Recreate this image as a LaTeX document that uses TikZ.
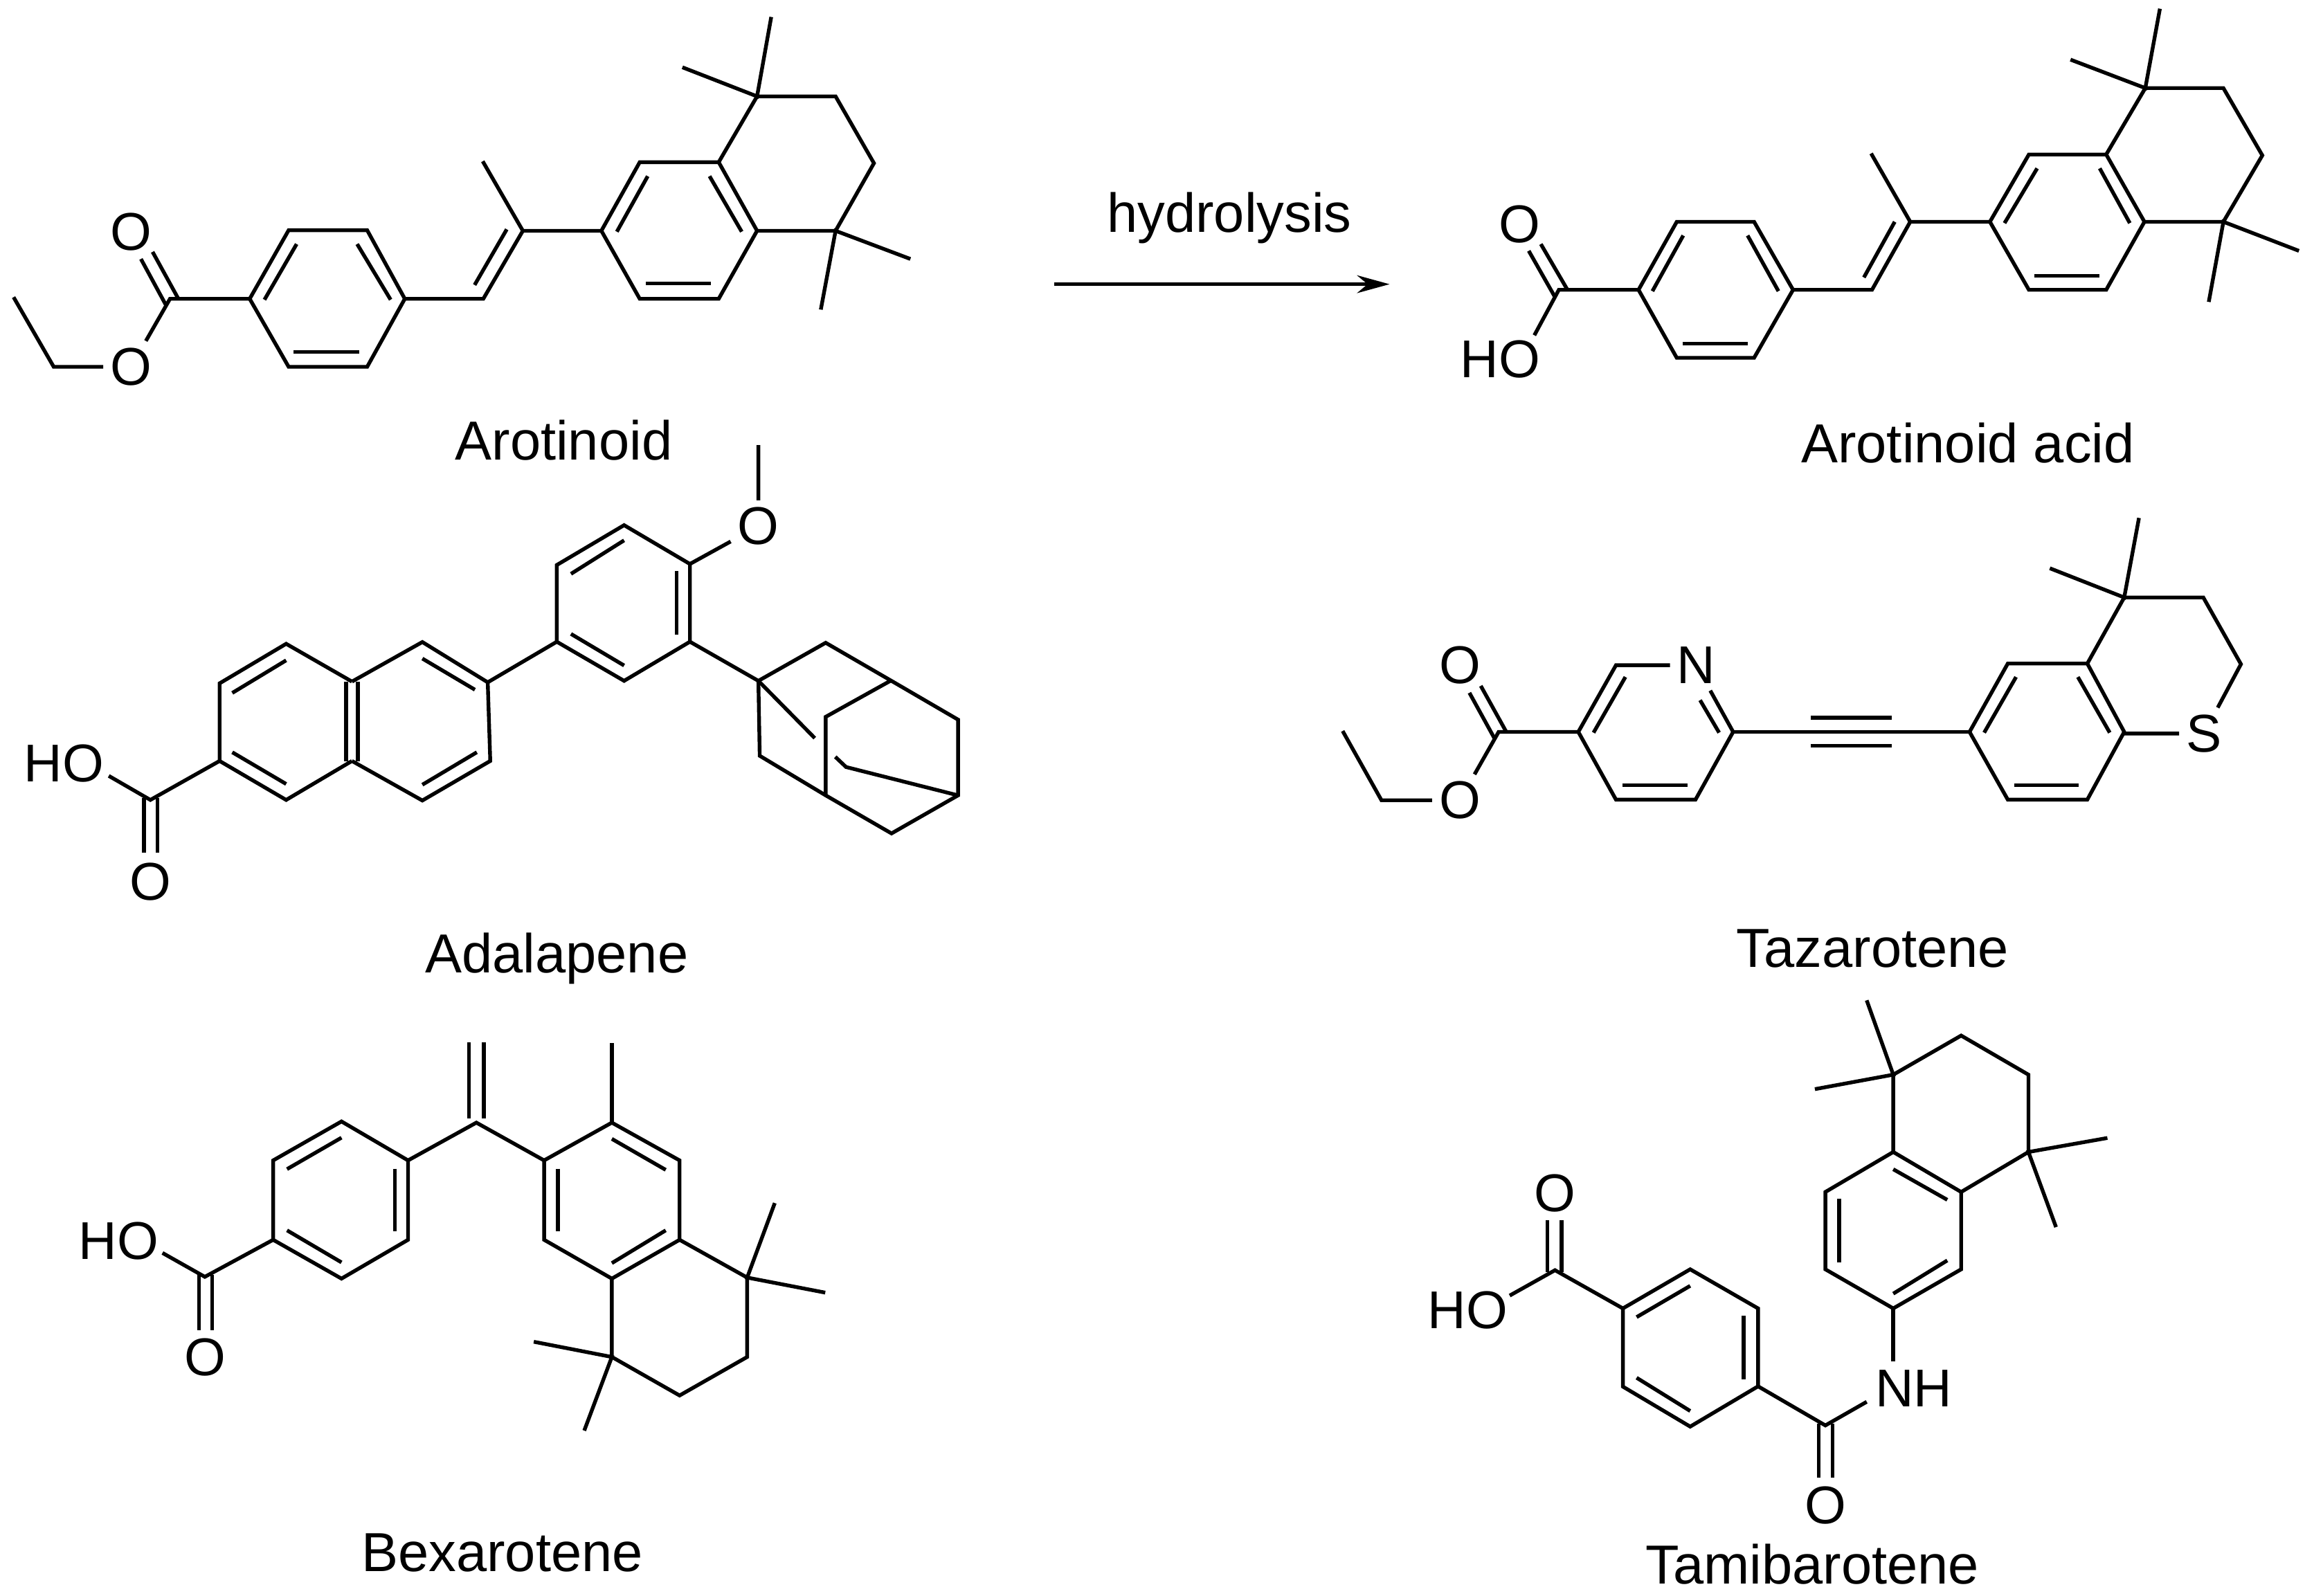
\documentclass[tikz,border=0pt]{standalone}
\usepackage{fontspec}
\setmainfont{Liberation Sans}
\usetikzlibrary{arrows.meta}
\begin{document}
\begin{tikzpicture}[x=.01cm, y=-.01cm, >={Stealth[length=2.2mm,width=1.2mm]}, line width=.72pt,
  atom/.style={font=\fontsize{10.25}{12}\selectfont, inner sep=1pt},
  molname/.style={font=\fontsize{10.6}{12}\selectfont, anchor=base, inner sep=0pt}]
\useasboundingbox (0,0) rectangle (1568,1081.6);

\node[atom] (aroOa) at (88.8,157) {O};
\node[atom] (aroOb) at (88.8,248.6) {O};
\draw (9.2,201.4)--(36.4,248.6)--(aroOb);
\draw (aroOb)--(115.2,202.5)--(169.2,202.5);
\draw (103.4,170.7)--(120.6,202);
\draw (95.5,175.5)--(112.2,206.3);
\draw (169.2,202.5)--(195.6,156)--(248.8,156)--(274.3,202.5)--(248.8,248.6)--(195.6,248.6)--cycle;
\draw (201,165.4)--(179.2,203.1);
\draw (242,165.4)--(264.7,203.1);
\draw (198.9,238.5)--(243.3,238.5);
\draw (274.3,202.5)--(327.5,202.5)--(354.3,156.4)--(407.5,156.4);
\draw (321.6,193.1)--(343.4,155.4);
\draw (327.1,109.3)--(354.3,156.4);
\draw (407.5,156.4)--(433.5,109.9)--(487,109.9)--(513,156.4)--(487,202.5)--(433.5,202.5)--cycle;
\draw (438.9,119.4)--(418,157);
\draw (480.8,119.4)--(502.6,157);
\draw (437.6,192.2)--(481.6,192.2);
\draw (487,109.9)--(513,65.3)--(566.2,65.3)--(592.2,110.6)--(566.2,156.4)--(513,156.4);
\draw (522.6,11.5)--(513,65.3)--(462.4,45.6);
\draw (616.9,175.5)--(566.2,156.4)--(556.2,209.8);
\node[molname] (aroname) at (382,311.6) {Arotinoid};

\coordinate (arrowstart) at (714.5,192.6);
\coordinate (arrowend) at (941.6,192.6);
\draw[->] (arrowstart)--(arrowend);
\node[molname] (hydrolysis) at (833,157.5) {hydrolysis};

\node[atom] (acidO) at (1029.8,152.2) {O};
\node[atom] (acidHO) at (1016.6,243.5) {HO};
\draw (1039.7,227.2)--(1056.3,196.4)--(1110.3,196.4);
\draw (1044.1,165.4)--(1061.8,195.8);
\draw (1035.9,170)--(1053.5,201);
\draw (1110.3,196.4)--(1136.2,150.3)--(1188.6,150.3)--(1215,196.4)--(1188.6,242.5)--(1136.2,242.5)--cycle;
\draw (1140.6,159.6)--(1119.7,197.3);
\draw (1184.2,159.6)--(1205.1,197.3);
\draw (1140,233)--(1184.2,233);
\draw (1215,196.4)--(1268.5,196.4)--(1294.4,150.3)--(1348.4,150.3);
\draw (1263,188)--(1283.9,150.3);
\draw (1267.9,104)--(1294.4,150.3);
\draw (1348.4,150.3)--(1374.8,104.7)--(1427.2,104.7)--(1453.1,150.3)--(1427.2,196.4)--(1374.8,196.4)--cycle;
\draw (1380.4,114.1)--(1358.3,151.2);
\draw (1422.8,114.1)--(1443.2,151.2);
\draw (1378.7,187)--(1422.8,187);
\draw (1427.2,104.7)--(1453.7,59.7)--(1506.6,59.7)--(1533,105.3)--(1506.6,150.3)--(1453.1,150.3);
\draw (1463.6,5.9)--(1453.7,59.7)--(1403,40.4);
\draw (1557.8,170)--(1506.6,150.3)--(1496.7,204.6);
\node[molname] (acidname) at (1333.5,313.5) {Arotinoid acid};

\node[atom] (adaO) at (513.9,356.6) {O};
\node[atom] (adaHO) at (43.4,517.4) {HO};
\node[atom] (adaOb) at (101.9,597.6) {O};
\draw (513.9,301.6)--(adaO)--(467.5,382.2);
\draw (422.9,355.9)--(377.3,382.9)--(377.3,434.9)--(422.9,461.4)--(467.5,434.9)--(467.5,382.2)--cycle;
\draw (422.9,366.2)--(386.9,388.9);
\draw (458.4,387)--(458.4,430);
\draw (386.9,429.6)--(422.9,451);
\draw (330.5,462.4)--(377.3,434.9);
\draw (238.5,461.9)--(286.2,435.1)--(330.5,462.4)--(332.2,515.7)--(286.2,542.5)--(238.5,515.7);
\draw (238.5,461.9)--(193.9,436.3)--(148.8,463.1)--(148.8,515.7)--(193.9,542.1)--(238.5,515.7);
\draw (234.6,462)--(234.6,516);
\draw (242.4,462)--(242.4,516);
\draw (193.9,447.5)--(157.4,469.6);
\draw (157.4,509.8)--(193.9,531.3);
\draw (286.2,446.3)--(321.8,467.4);
\draw (323.1,509.8)--(286.2,531.8);
\draw (148.8,515.7)--(101.9,542.1)--(73.7,525.8);
\draw (97.6,541)--(97.6,578);
\draw (106.7,541)--(106.7,578);
\draw (467.5,434.9)--(513.9,461.4)--(559.5,435.6)--(603.7,461.2)--(649.2,487.7)--(649.2,539)--(604.1,564.8)--(559.5,539)--(514.8,512.2)--(513.9,461.4);
\draw (603.7,461.2)--(559.5,485.8)--(559.5,539);
\draw (513.9,461.4)--(552.1,500.2);
\draw (566,512.9)--(573.3,519.8)--(649.2,539);
\node[molname] (adaname) at (377.3,659.3) {Adalapene};

\node[atom] (tazOa) at (989.2,450.8) {O};
\node[atom] (tazOb) at (989.2,542.3) {O};
\node[atom] (tazN) at (1149.4,450.8) {N};
\node[atom] (tazS) at (1493.4,497.1) {S};
\draw (909.8,495.4)--(936.1,542.3)--(tazOb)--(1015.5,496)--(1069.5,496);
\draw (1003.4,464.8)--(1020.7,496);
\draw (995.7,469.5)--(1012.9,500.8);
\draw (tazN)--(1095,450.8)--(1069.5,496)--(1095,541.9)--(1148.9,541.9)--(1174.4,496)--(tazN);
\draw (1101.4,458.8)--(1079.8,496.5);
\draw (1152,474.5)--(1164.9,496.5);
\draw (1099.3,532.2)--(1143.7,532.2);
\draw (1174.4,496)--(1334.6,496);
\draw (1227,486.3)--(1281.9,486.3);
\draw (1227,505.3)--(1281.9,505.3);
\draw (1334.6,496)--(1360.5,449.7)--(1414.4,449.7)--(1439.4,496)--(1414.4,541.9)--(1360.5,541.9)--cycle;
\draw (1366.1,458.8)--(1344.5,496.5);
\draw (1408,458.8)--(1429.6,496.5);
\draw (1364.8,532.2)--(1408.4,532.2);
\draw (1414.4,449.7)--(1439.4,404.9)--(1493,404.9)--(1518.5,450.1)--(tazS)--(1439.4,497.1);
\draw (1449.4,351)--(1439.4,404.9)--(1389,385.1);
\node[molname] (tazname) at (1269,655.4) {Tazarotene};

\node[atom] (bexHO) at (80.5,841) {HO};
\node[atom] (bexO) at (138.8,920) {O};
\draw (317.7,706.5)--(317.7,758);
\draw (327.8,706.5)--(327.8,758);
\draw (276.5,786.4)--(322.8,760.8)--(368.7,786.4);
\draw (276.5,786.4)--(231.4,760)--(185.1,786.4)--(185.1,840.2)--(231.4,866.5)--(276.5,840.2)--cycle;
\draw (231.4,771)--(194.5,792.3);
\draw (267.6,792)--(267.6,834.5);
\draw (194.5,833.8)--(231.4,855.5);
\draw (185.1,840.2)--(138.8,865.3)--(110.1,849.1);
\draw (134.9,864)--(134.9,901.6);
\draw (143.9,864)--(143.9,901.6);
\draw (368.7,786.4)--(414.6,760.8)--(460.5,786.4)--(460.5,840.2)--(414.6,866.5)--(368.7,840.2)--cycle;
\draw (414.6,707)--(414.6,760.8);
\draw (378,792)--(378,834.5);
\draw (414.6,771.8)--(451.1,792.8);
\draw (451.1,833.8)--(414.6,856);
\draw (460.5,840.2)--(506.3,865.8)--(506.3,919.6)--(460.5,945.7)--(414.6,919.6)--(414.6,866.5);
\draw (525,815.3)--(506.3,865.8)--(559.2,876);
\draw (361.7,909.3)--(414.6,919.6)--(395.9,969.5);
\node[molname] (bexname) at (340.3,1065) {Bexarotene};

\node[atom] (tamNH) at (1296.7,941) {NH};
\node[atom] (tamOa) at (1236.9,1020.3) {O};
\node[atom] (tamOb) at (1053.7,808.6) {O};
\node[atom] (tamHO) at (994.6,888) {HO};
\draw (1282.9,780.7)--(1282.9,728.3)--(1328.9,701.8)--(1374.5,728.3)--(1374.5,780.7)--(1328.9,807.8);
\draw (1264.9,677.9)--(1282.9,728.3)--(1229.8,738.1);
\draw (1428,771.2)--(1374.5,780.7)--(1393.2,831.6);
\draw (1282.9,780.7)--(1328.9,807.8)--(1328.9,860.2)--(1282.9,886.7)--(1236.9,860.2)--(1236.9,807.8)--cycle;
\draw (1282.9,792.4)--(1319.5,813.1);
\draw (1246.2,812.5)--(1246.2,855.5);
\draw (1319.5,854.2)--(1282.9,876.7);
\draw (1282.9,886.7)--(1282.9,922.5);
\draw (1264.9,950)--(1236.9,966)--(1191.3,939.5);
\draw (1232.4,965)--(1232.4,1001.2);
\draw (1241.8,965)--(1241.8,1001.2);
\draw (1191.3,939.5)--(1145.3,966.8)--(1099.7,939.7)--(1099.7,886.7)--(1145.3,860.2)--(1191.3,886.7)--cycle;
\draw (1145.3,871.4)--(1109,892.6);
\draw (1181.6,891.8)--(1181.6,935);
\draw (1109,933.7)--(1145.3,956.2);
\draw (1099.7,886.7)--(1053.7,860.8)--(1023,878);
\draw (1048.5,862)--(1048.5,826.9);
\draw (1058.2,862)--(1058.2,826.9);
\node[molname] (tamname) at (1228,1073.3) {Tamibarotene};
\end{tikzpicture}
\end{document}
